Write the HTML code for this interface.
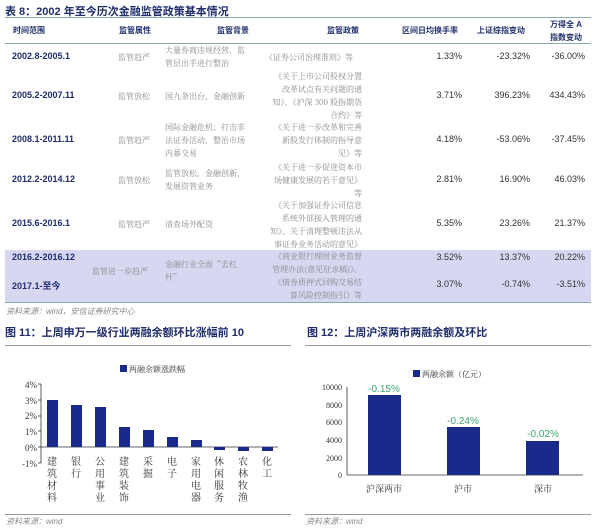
<!DOCTYPE html>
<html><head><meta charset="utf-8"><style>
body{margin:0;width:600px;height:530px;background:#fff;font-family:"Liberation Sans","Noto Sans CJK SC",sans-serif;position:relative;overflow:hidden;color:#333}
.a{position:absolute;white-space:nowrap}
.t{font-size:11px;font-weight:bold;color:#1f2d6b}
.h{font-size:8px;font-weight:bold;color:#1f2d6b}
.d{font-size:9px;font-weight:bold;color:#1f2d6b}
.c{font-size:8px;color:#888;line-height:13px;font-family:"Noto Serif CJK SC",serif}
.n{font-size:9px;color:#333;text-align:right;width:70px}
.s{font-size:8px;color:#888;font-style:italic}
.v{position:absolute;width:12px;font-size:10px;line-height:12px;text-align:center;white-space:normal;font-family:"Noto Serif CJK SC",serif;color:#333}
</style></head><body>
<div class="a t" style="left:5px;top:3px">表 8：2002 年至今历次金融监管政策基本情况</div>
<div class="a" style="left:5px;top:17px;width:586px;height:1px;background:#8aa"></div>
<div class="a h" style="left:13px;top:25px">时间范围</div>
<div class="a h" style="left:119px;top:25px">监管属性</div>
<div class="a h" style="left:217px;top:25px">监管背景</div>
<div class="a h" style="left:327px;top:25px">监管政策</div>
<div class="a h" style="left:402px;top:25px">区间日均换手率</div>
<div class="a h" style="left:477px;top:25px">上证综指变动</div>
<div class="a h" style="left:550px;top:18px;text-align:center;line-height:13px">万得全 A<br>指数变动</div>
<div class="a" style="left:5px;top:43px;width:586px;height:1px;background:#8aa"></div>
<div class="a" style="left:5px;top:250px;width:586px;height:52px;background:#d7d7f2"></div>
<div class="a" style="left:5px;top:302px;width:586px;height:1px;background:#8aa"></div>

<div class="a d" style="left:12px;top:51px">2002.8-2005.1</div>
<div class="a c" style="left:118px;top:51px">监管趋严</div>
<div class="a c" style="left:165px;top:44px">大量券商违规经营，监<br>管层出手进行整治</div>
<div class="a c" style="left:265px;top:51px">《证券公司治理准则》等</div>
<div class="a n" style="left:392px;top:51px">1.33%</div><div class="a n" style="left:460px;top:51px">-23.32%</div><div class="a n" style="left:515px;top:51px">-36.00%</div>

<div class="a d" style="left:12px;top:90px">2005.2-2007.11</div>
<div class="a c" style="left:118px;top:90px">监管放松</div>
<div class="a c" style="left:165px;top:90px">国九条出台，金融创新</div>
<div class="a c" style="left:264px;top:70px;text-align:right;width:98px">《关于上市公司股权分置<br>改革试点有关问题的通<br>知》、《沪深 300 股指期货<br>合约》等</div>
<div class="a n" style="left:392px;top:90px">3.71%</div><div class="a n" style="left:460px;top:90px">396.23%</div><div class="a n" style="left:515px;top:90px">434.43%</div>

<div class="a d" style="left:12px;top:134px">2008.1-2011.11</div>
<div class="a c" style="left:118px;top:134px">监管趋严</div>
<div class="a c" style="left:165px;top:121px">国际金融危机；打击非<br>法证券活动，整治市场<br>内幕交易</div>
<div class="a c" style="left:264px;top:121px;text-align:right;width:98px">《关于进一步改革和完善<br>新股发行体制的指导意<br>见》等</div>
<div class="a n" style="left:392px;top:134px">4.18%</div><div class="a n" style="left:460px;top:134px">-53.06%</div><div class="a n" style="left:515px;top:134px">-37.45%</div>

<div class="a d" style="left:12px;top:174px">2012.2-2014.12</div>
<div class="a c" style="left:118px;top:174px">监管放松</div>
<div class="a c" style="left:165px;top:167px">监管放松，金融创新，<br>发展资管业务</div>
<div class="a c" style="left:264px;top:161px;text-align:right;width:98px">《关于进一步促进资本市<br>场健康发展的若干意见》<br>等</div>
<div class="a n" style="left:392px;top:174px">2.81%</div><div class="a n" style="left:460px;top:174px">16.90%</div><div class="a n" style="left:515px;top:174px">46.03%</div>

<div class="a d" style="left:12px;top:218px">2015.6-2016.1</div>
<div class="a c" style="left:118px;top:218px">监管趋严</div>
<div class="a c" style="left:165px;top:218px">清查场外配资</div>
<div class="a c" style="left:264px;top:199px;text-align:right;width:98px">《关于加强证券公司信息<br>系统外部接入管理的通<br>知》、关于清理整顿违法从<br>事证券业务活动的意见》</div>
<div class="a n" style="left:392px;top:218px">5.35%</div><div class="a n" style="left:460px;top:218px">23.26%</div><div class="a n" style="left:515px;top:218px">21.37%</div>

<div class="a d" style="left:12px;top:252px">2016.2-2016.12</div>
<div class="a d" style="left:12px;top:279px">2017.1-至今</div>
<div class="a c" style="left:92px;top:265px">监管进一步趋严</div>
<div class="a c" style="left:165px;top:258px">金融行业全面“去杠<br>杆”</div>
<div class="a c" style="left:264px;top:250px;text-align:right;width:98px">《商业银行理财业务监督<br>管理办法(意见征求稿)》、<br>《债券质押式回购交易结<br>算风险控制指引》等</div>
<div class="a n" style="left:392px;top:252px">3.52%</div><div class="a n" style="left:460px;top:252px">13.37%</div><div class="a n" style="left:515px;top:252px">20.22%</div>
<div class="a n" style="left:392px;top:279px">3.07%</div><div class="a n" style="left:460px;top:279px">-0.74%</div><div class="a n" style="left:515px;top:279px">-3.51%</div>

<div class="a s" style="left:6px;top:306px">资料来源：wind，安信证券研究中心</div>
<div class="a t" style="left:5px;top:324px">图 11：上周申万一级行业两融余额环比涨幅前 10</div>
<div class="a t" style="left:307px;top:324px">图 12：上周沪深两市两融余额及环比</div>
<div class="a" style="left:5px;top:345px;width:286px;height:1px;background:#999"></div>
<div class="a" style="left:305px;top:345px;width:286px;height:1px;background:#999"></div>
<div class="a" style="left:5px;top:514px;width:286px;height:1px;background:#999"></div>
<div class="a" style="left:305px;top:514px;width:286px;height:1px;background:#999"></div>
<div class="a s" style="left:6px;top:516px">资料来源：wind</div>
<div class="a s" style="left:306px;top:516px">资料来源：wind</div>

<svg class="a" style="left:0;top:340px" width="300" height="175" font-family="Liberation Serif,Noto Serif CJK SC,serif">
<rect x="120" y="25" width="7" height="7" fill="#1a2a8a"/><text x="129" y="32" font-size="8" fill="#333">两融余额涨跌幅</text>
<g font-size="9" fill="#333" text-anchor="end">
<text x="37" y="48">4%</text><text x="37" y="64">3%</text><text x="37" y="79">2%</text><text x="37" y="95">1%</text><text x="37" y="111">0%</text><text x="37" y="127">-1%</text></g>
<line x1="41" y1="44" x2="41" y2="123" stroke="#333" stroke-width="0.8"/>
<g stroke="#333" stroke-width="0.8"><line x1="38" y1="44" x2="41" y2="44"/><line x1="38" y1="60" x2="41" y2="60"/><line x1="38" y1="76" x2="41" y2="76"/><line x1="38" y1="91" x2="41" y2="91"/><line x1="38" y1="107" x2="41" y2="107"/><line x1="38" y1="123" x2="41" y2="123"/><line x1="41" y1="107" x2="278" y2="107"/></g>
<g fill="#1a2a8a">
<rect x="47" y="60" width="11" height="47"/><rect x="71" y="65" width="11" height="42"/><rect x="95" y="67" width="11" height="40"/><rect x="119" y="87" width="11" height="20"/><rect x="143" y="90" width="11" height="17"/><rect x="167" y="97" width="11" height="10"/><rect x="191" y="100" width="11" height="7"/><rect x="214" y="107" width="11" height="3"/><rect x="238" y="107" width="11" height="4"/><rect x="262" y="107" width="11" height="4"/></g>
</svg>
<div class="v" style="left:46px;top:455px">建筑材料</div>
<div class="v" style="left:70px;top:455px">银行</div>
<div class="v" style="left:94px;top:455px">公用事业</div>
<div class="v" style="left:118px;top:455px">建筑装饰</div>
<div class="v" style="left:142px;top:455px">采掘</div>
<div class="v" style="left:166px;top:455px">电子</div>
<div class="v" style="left:190px;top:455px">家用电器</div>
<div class="v" style="left:213px;top:455px">休闲服务</div>
<div class="v" style="left:237px;top:455px">农林牧渔</div>
<div class="v" style="left:261px;top:455px">化工</div>

<svg class="a" style="left:300px;top:340px" width="300" height="175" font-family="Liberation Serif,Noto Serif CJK SC,serif">
<rect x="113" y="30" width="7" height="7" fill="#1a2a8a"/><text x="122" y="37" font-size="8" fill="#333">两融余额（亿元）</text>
<g font-size="8" fill="#333" text-anchor="end">
<text x="42" y="50">10000</text><text x="42" y="68">8000</text><text x="42" y="85">6000</text><text x="42" y="103">4000</text><text x="42" y="121">2000</text><text x="42" y="138">0</text></g>
<line x1="47" y1="47" x2="47" y2="135" stroke="#333" stroke-width="0.8"/>
<line x1="47" y1="135" x2="283" y2="135" stroke="#333" stroke-width="0.8"/>
<g fill="#1a2a8a"><rect x="68" y="55" width="33" height="80"/><rect x="147" y="87" width="33" height="48"/><rect x="226" y="101" width="33" height="34"/></g>
<g font-size="10" fill="#3aa86a" text-anchor="middle" font-family="Liberation Sans,sans-serif">
<text x="84" y="52">-0.15%</text><text x="163" y="84">-0.24%</text><text x="243" y="97">-0.02%</text></g>
<g font-size="9" fill="#333" text-anchor="middle"><text x="84" y="152">沪深两市</text><text x="163" y="152">沪市</text><text x="243" y="152">深市</text></g>
</svg>
</body></html>
